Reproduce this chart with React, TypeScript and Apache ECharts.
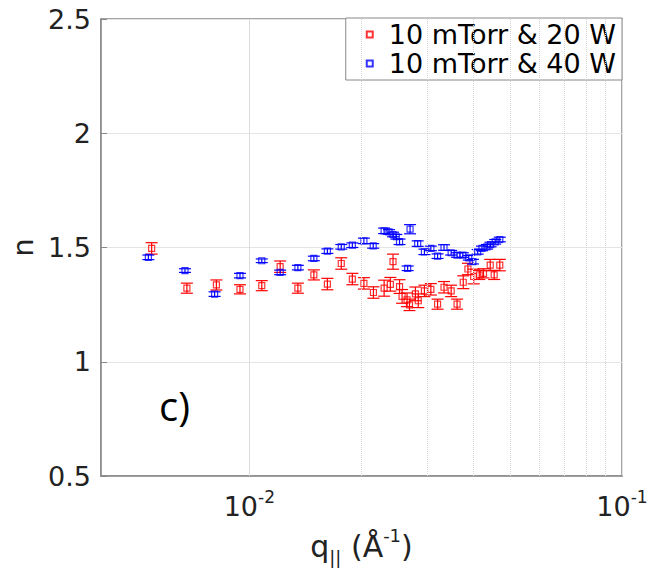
import React, { useEffect, useRef } from 'react';
import * as echarts from 'echarts';

const seriesNames = ['10 mTorr & 20 W', '10 mTorr & 40 W'];

const q20 = [0.00547, 0.0068, 0.00816, 0.00944, 0.0108, 0.0121, 0.0135, 0.0149, 0.0162, 0.01765, 0.0189, 0.0203, 0.02153, 0.023, 0.0239, 0.0243, 0.0253, 0.0257, 0.0265, 0.0269, 0.0279, 0.0284, 0.0295, 0.0307, 0.032, 0.0333, 0.0348, 0.0361, 0.0375, 0.0386, 0.04, 0.0414, 0.0425, 0.0443, 0.0454, 0.047];
const n20 = [1.496, 1.322, 1.336, 1.317, 1.333, 1.416, 1.322, 1.38, 1.34, 1.43, 1.362, 1.343, 1.303, 1.322, 1.339, 1.438, 1.329, 1.286, 1.271, 1.249, 1.297, 1.267, 1.31, 1.317, 1.252, 1.326, 1.31, 1.252, 1.348, 1.406, 1.373, 1.38, 1.387, 1.423, 1.38, 1.423];
const e20 = [0.025, 0.022, 0.022, 0.02, 0.022, 0.025, 0.022, 0.022, 0.025, 0.025, 0.025, 0.025, 0.025, 0.035, 0.03, 0.033, 0.03, 0.03, 0.03, 0.025, 0.03, 0.03, 0.025, 0.025, 0.022, 0.025, 0.025, 0.022, 0.028, 0.025, 0.032, 0.02, 0.02, 0.025, 0.02, 0.025];

const q40 = [0.00536, 0.00672, 0.00807, 0.00944, 0.0108, 0.0121, 0.0135, 0.0149, 0.0162, 0.01765, 0.0189, 0.0203, 0.0215, 0.023, 0.0237, 0.0243, 0.0248, 0.0253, 0.0266, 0.027, 0.0283, 0.0295, 0.0307, 0.032, 0.0333, 0.0348, 0.0361, 0.0374, 0.0388, 0.0398, 0.041, 0.0421, 0.0434, 0.0444, 0.0457, 0.047];
const n40 = [1.457, 1.399, 1.296, 1.377, 1.442, 1.391, 1.412, 1.452, 1.484, 1.503, 1.51, 1.529, 1.507, 1.573, 1.568, 1.557, 1.547, 1.525, 1.409, 1.58, 1.517, 1.481, 1.496, 1.462, 1.5, 1.477, 1.467, 1.467, 1.455, 1.438, 1.481, 1.496, 1.503, 1.513, 1.525, 1.535];
const e40 = [0.01, 0.008, 0.01, 0.01, 0.008, 0.01, 0.01, 0.01, 0.01, 0.01, 0.01, 0.012, 0.01, 0.012, 0.01, 0.01, 0.01, 0.012, 0.01, 0.02, 0.012, 0.012, 0.01, 0.01, 0.012, 0.01, 0.01, 0.01, 0.01, 0.01, 0.01, 0.01, 0.01, 0.01, 0.01, 0.01];

const xMin = 0.004;
const xMax = 0.1;
const yMin = 0.5;
const yMax = 2.5;
const yInterval = 0.5;
const minorGridQ = [0.005, 0.006, 0.007, 0.008, 0.009, 0.02, 0.03, 0.04, 0.05, 0.06, 0.07, 0.08, 0.09];

const RED = '#ff0000';
const BLUE = '#0000ff';
const FONT = 'DejaVu Sans';

function errSeries(q: number[], n: number[], e: number[], color: string) {
  return {
    type: 'custom',
    silent: true,
    z: 3,
    data: q.map((x, i) => [x, n[i], e[i]]),
    encode: { x: 0, y: 1 },
    renderItem: (_params: any, api: any) => {
      const x = api.value(0);
      const y = api.value(1);
      const er = api.value(2);
      const top = api.coord([x, y + er]);
      const bot = api.coord([x, y - er]);
      const hw = 6;
      const st = { stroke: color, lineWidth: 1.2 };
      return {
        type: 'group',
        children: [
          { type: 'line', shape: { x1: top[0], y1: top[1], x2: bot[0], y2: bot[1] }, style: st },
          { type: 'line', shape: { x1: top[0] - hw, y1: top[1], x2: top[0] + hw, y2: top[1] }, style: st },
          { type: 'line', shape: { x1: bot[0] - hw, y1: bot[1], x2: bot[0] + hw, y2: bot[1] }, style: st },
        ],
      };
    },
  };
}

export default function App() {
  const ref = useRef<HTMLDivElement>(null);
  useEffect(() => {
    const chart = echarts.init(ref.current!, null, { renderer: 'svg' });
    const option: any = {
      animation: false,
      backgroundColor: '#fff',
      grid: {
        left: 93, right: 41, top: 19, bottom: 92,
        show: true, borderColor: '#888', borderWidth: 1.5, backgroundColor: '#fff',
      },
      legend: {
        orient: 'vertical',
        right: 41,
        top: 18,
        backgroundColor: '#fff',
        borderColor: '#888',
        borderWidth: 1,
        borderRadius: 0,
        padding: [3, 6, 3, 20],
        itemGap: 2,
        itemWidth: 6,
        itemHeight: 6,
        textStyle: { fontFamily: FONT, fontSize: 27, color: '#000', padding: [0, 0, 0, 11] },
        data: seriesNames,
      },
      xAxis: {
        type: 'log',
        logBase: 10,
        min: xMin,
        max: xMax,
        name: '{m|q}{sub|||}{m| (Å}{sup|-1}{m|)}',
        nameLocation: 'middle',
        nameGap: 50,
        nameTextStyle: {
          rich: {
            m: { fontFamily: FONT, fontSize: 30, color: '#222', lineHeight: 40 },
            sub: { fontFamily: FONT, fontSize: 18, color: '#222', verticalAlign: 'bottom' },
            sup: { fontFamily: FONT, fontSize: 18, color: '#222', verticalAlign: 'top' },
          },
        },
        axisLine: { show: true, lineStyle: { color: '#888', width: 1.5 } },
        axisTick: { show: false },
        splitLine: { show: true, lineStyle: { color: '#e4e4e4', width: 1 } },
        axisLabel: {
          margin: 12,
          formatter: (v: number) => {
            const l = Math.log10(v);
            const r = Math.round(l);
            if (Math.abs(l - r) > 1e-6) return '';
            return '{b|10}{s|' + r + '}';
          },
          rich: {
            b: { fontFamily: FONT, fontSize: 27, color: '#222', lineHeight: 36 },
            s: { fontFamily: FONT, fontSize: 17, color: '#222', verticalAlign: 'top' },
          },
        },
      },
      yAxis: {
        type: 'value',
        min: yMin,
        max: yMax,
        interval: yInterval,
        name: 'n',
        nameLocation: 'middle',
        nameRotate: 90,
        nameGap: 64,
        nameTextStyle: { fontFamily: FONT, fontSize: 29, color: '#222' },
        axisLine: { show: true, lineStyle: { color: '#888', width: 1.5 } },
        axisTick: { show: true, inside: true, length: 6, lineStyle: { color: '#888' } },
        splitLine: { show: true, lineStyle: { color: '#e4e4e4', width: 1 } },
        axisLabel: { margin: 10, fontFamily: FONT, fontSize: 27, color: '#222' },
      },
      graphic: [
        {
          type: 'text',
          x: 159,
          y: 405,
          style: { text: 'c)', fontFamily: 'Open Sans', fontSize: 40, fill: '#000', verticalAlign: 'middle' },
        },
      ],
      series: [
        {
          type: 'line',
          data: [],
          silent: true,
          markLine: {
            silent: true,
            symbol: 'none',
            label: { show: false },
            lineStyle: { color: '#d4d4d4', type: 'dotted', width: 1 },
            data: minorGridQ.map((v) => ({ xAxis: v })),
          },
          z: 1,
        },
        errSeries(q20, n20, e20, RED),
        errSeries(q40, n40, e40, BLUE),
        {
          name: seriesNames[0],
          type: 'scatter',
          symbol: 'rect',
          symbolSize: 6,
          z: 4,
          itemStyle: { color: 'rgba(255,255,255,0)', borderColor: RED, borderWidth: 1.2 },
          data: q20.map((x, i) => [x, n20[i]]),
        },
        {
          name: seriesNames[1],
          type: 'scatter',
          symbol: 'rect',
          symbolSize: 6,
          z: 4,
          itemStyle: { color: 'rgba(255,255,255,0)', borderColor: BLUE, borderWidth: 1.2 },
          data: q40.map((x, i) => [x, n40[i]]),
        },
      ],
    };
    chart.setOption(option);
    return () => chart.dispose();
  }, []);
  return <div ref={ref} style={{ position: 'fixed', left: 0, top: 0, width: 663, height: 571 }} />;
}
